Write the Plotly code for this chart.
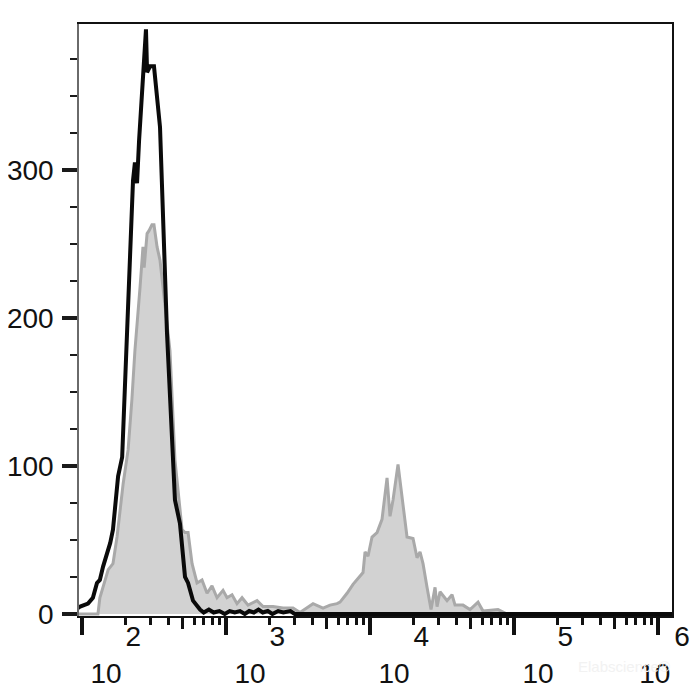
import plotly.graph_objects as go

# Control (black outline) histogram: intensity, count
black_x = [90, 97, 110, 119, 127, 133, 140, 157, 164, 178, 190, 205, 226, 233, 241, 249,
           261, 278, 283, 297, 316, 348, 389, 422, 442, 479, 519, 545, 590, 660,
           700, 760, 820, 900, 980, 1060, 1150, 1250, 1350, 1450, 1560, 1680, 1800,
           1950, 2100, 2300, 2500, 2800, 3000, 1250000]
black_y = [3, 5, 7, 11, 21, 23, 32, 48, 57, 93, 106, 190, 293, 305, 291, 320,
           356, 395, 366, 370, 370, 329, 190, 111, 77, 61, 25, 21, 9, 3,
           1, 3, 1, 2, 0, 2, 1, 2, 0, 2, 1, 3, 1,
           2, 0, 2, 1, 2, 0, 0]

# Stained sample (gray filled) histogram: intensity, count
gray_x = [90, 129, 133, 152, 164, 175, 193, 209, 222, 233, 253, 265, 270, 283, 292,
          306, 316, 332, 348, 365, 408, 442, 464, 495, 519, 545, 581, 629, 681,
          738, 799, 866, 953, 1016, 1101, 1192, 1292, 1422, 1642, 1807, 2120, 2488,
          2919, 3265, 4020, 4717, 5275, 5899, 6190, 6923, 7618, 8942, 9233, 9685,
          10325, 11184, 12115, 13126, 13769, 14443, 15646, 16681, 18068, 19890,
          21208, 22240, 23335, 24879, 26525, 28282, 29205, 30630, 34255, 37110,
          38936, 44233, 49490, 56234, 60918, 77426, 89424, 1250000]
gray_y = [0, 0, 11, 30, 34, 52, 88, 111, 145, 178, 221, 248, 234, 257, 259,
          263, 263, 248, 239, 221, 178, 104, 84, 57, 55, 55, 34, 21, 23,
          14, 19, 11, 16, 11, 13, 7, 11, 6, 9, 5, 5, 4,
          4, 1, 7, 4, 6, 7, 8, 14, 20, 28, 42, 39,
          52, 55, 64, 92, 66, 77, 101, 79, 52, 51,
          38, 42, 34, 18, 3, 18, 5, 15, 9, 13,
          6, 6, 3, 8, 2, 3, 0, 0]

x_tickvals = [1e2, 1e3, 1e4, 1e5, 1e6]
x_exponents = ["2", "3", "4", "5", "6"]
y_tickvals = [0, 100, 200, 300]
y_ticktext = ["0", "100", "200", "300"]
mid_tickvals = [5e2, 5e3, 5e4, 5e5]

NB = "\u00a0"
x_ticktext = []
for i, e in enumerate(x_exponents):
    trail = NB * 7 if i == len(x_exponents) - 1 else ""
    x_ticktext.append(NB * 7 + e + trail + "<br>10" + trail)

FONT = 'Arial, "Liberation Sans", sans-serif'

fig = go.Figure()
fig.add_trace(go.Scatter(
    x=gray_x, y=gray_y, mode="lines", fill="tozeroy",
    line=dict(color="#a9a9a9", width=3), fillcolor="#d2d2d2",
    hoverinfo="skip", showlegend=False))
fig.add_trace(go.Scatter(
    x=black_x, y=black_y, mode="lines",
    line=dict(color="#0a0a0a", width=4),
    hoverinfo="skip", showlegend=False))
# invisible trace to activate overlay axes
fig.add_trace(go.Scatter(x=[1e3], y=[0], xaxis="x2", yaxis="y2", mode="markers",
                         marker=dict(opacity=0), hoverinfo="skip", showlegend=False))

x_range = [1.979, 6.097]
y_range = [-1.35, 398.6]

fig.update_layout(
    template="none",
    width=700, height=700,
    margin=dict(l=71, r=36, t=16, b=92, autoexpand=False),
    paper_bgcolor="white", plot_bgcolor="white",
    font=dict(family=FONT, size=28, color="#111111"),
    xaxis=dict(
        type="log", range=x_range, showgrid=False, zeroline=False, automargin=False,
        showline=True, linecolor="#111111", linewidth=1.5, mirror=True,
        tickmode="array", tickvals=x_tickvals, ticktext=x_ticktext,
        ticks="outside", ticklen=17, tickwidth=4, tickcolor="#111111",
        tickfont=dict(family=FONT, size=28, color="#111111"),
        ticklabelshift=24, ticklabelstandoff=-22, ticklabeloverflow="allow",
        minor=dict(dtick="D1", ticks="outside", ticklen=7, tickwidth=2.5,
                   tickcolor="#111111", showgrid=False),
    ),
    xaxis2=dict(
        type="log", range=x_range, overlaying="x", side="bottom", automargin=False,
        showgrid=False, zeroline=False, showline=False,
        tickmode="array", tickvals=mid_tickvals, showticklabels=False,
        ticks="outside", ticklen=12, tickwidth=3, tickcolor="#111111",
    ),
    yaxis=dict(
        range=y_range, showgrid=False, zeroline=False, automargin=False,
        showline=True, linecolor="#6a6a6a", linewidth=1.5,
        tickmode="array", tickvals=y_tickvals, ticktext=y_ticktext,
        ticks="outside", ticklen=15, tickwidth=4, tickcolor="#1a1a1a",
        tickfont=dict(family=FONT, size=28, color="#111111"),
        ticklabelstandoff=3,
        minor=dict(tickmode="linear", tick0=0, dtick=25, ticks="outside",
                   ticklen=7, tickwidth=2.2, tickcolor="#1a1a1a", showgrid=False),
    ),
    yaxis2=dict(
        range=y_range, overlaying="y", side="right", automargin=False,
        showgrid=False, zeroline=False, showline=True,
        linecolor="#111111", linewidth=1.5, showticklabels=False, ticks="",
    ),
)

fig.add_annotation(
    text="Elabscience®", xref="paper", yref="paper", x=1.0, y=-0.085,
    xanchor="right", yanchor="middle", showarrow=False,
    font=dict(family=FONT, size=15, color="#f2f2f2"))

fig.write_html("out.html")
